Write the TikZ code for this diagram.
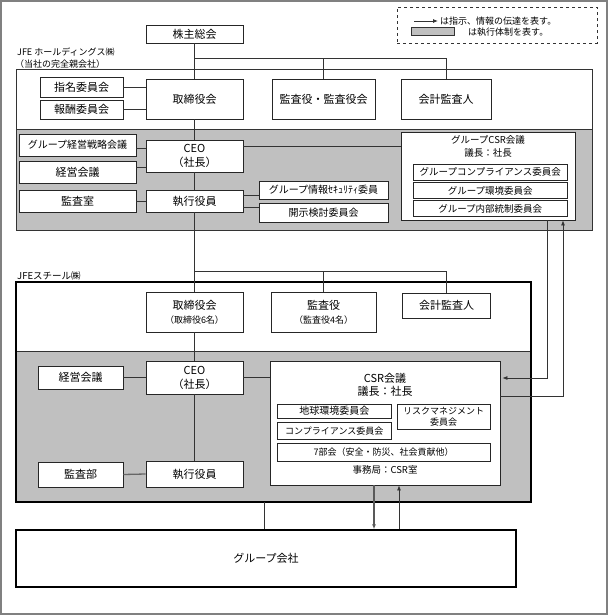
\documentclass[tikz,border=0pt]{standalone}
\usepackage{fontspec}
\setmainfont{Noto Sans CJK JP}
\usetikzlibrary{arrows.meta}
\definecolor{grayfill}{HTML}{C0C0C0}
\definecolor{framegray}{HTML}{808080}
\begin{document}
\begin{tikzpicture}[x=1pt,y=-1pt,
  box/.style={draw=black!85, fill=white, line width=0.8pt, inner sep=0pt, align=center, font=\fontsize{11}{14}\selectfont},
  mbox/.style={box, font=\fontsize{10}{12}\selectfont},
  sbox/.style={box, font=\fontsize{9}{11}\selectfont},
  conn/.style={draw=black!80, line width=0.8pt},
  thickconn/.style={draw=black!60, line width=1.3pt},
  arr/.style={conn, -{Latex[length=5pt,width=4pt]}},
  lbl/.style={inner sep=0pt, anchor=west, font=\fontsize{9}{11}\selectfont},
  ttl/.style={inner sep=0pt, font=\fontsize{9.5}{11}\selectfont},
]
\useasboundingbox (0,0) rectangle (609,616);
\draw[framegray, line width=1.5pt] (1,1) rectangle (607,614);

% legend
\node[draw=black!80, dashed, line width=0.8pt, minimum width=200, minimum height=36, inner sep=0] (legend) at (497,25) {};
\coordinate (la1) at (414,21);
\coordinate (la2) at (438,21);
\draw[arr] (la1) -- (la2);
\node[lbl] (lt1) at (440,21) {は指示、情報の伝達を表す。};
\node[draw=black!80, fill=grayfill, minimum width=43, minimum height=8, inner sep=0] (lgray) at (432.5,31.5) {};
\node[lbl] (lt2) at (468,32) {は執行体制を表す。};

% ---------------- JFE HD ----------------
\node[box] (kabu) at (194.5,34) [minimum width=97, minimum height=18] {株主総会};
\node[lbl] (hdl1) at (17,52) {JFE ホールディングス㈱};
\node[lbl] (hdl2) at (15,64) {（当社の完全親会社）};
\node[draw=black!80, line width=0.8pt, minimum width=576, minimum height=161, inner sep=0] (hd) at (304,149.5) {};
\node[draw=black!80, fill=grayfill, line width=0.8pt, minimum width=576, minimum height=101, inner sep=0] (hdgray) at (304,179.5) {};

\node[box, minimum width=83, minimum height=20] (nom) at (81.5,87) {指名委員会};
\node[box, minimum width=83, minimum height=19] (rem) at (81.5,109.5) {報酬委員会};
\node[box, minimum width=97, minimum height=40] (hdboard) at (194.5,99) {取締役会};
\node[box, minimum width=103, minimum height=40] (hdaud) at (323.5,99) {監査役・監査役会};
\node[box, minimum width=90, minimum height=40] (hdacc) at (446,99) {会計監査人};

\node[mbox, minimum width=117, minimum height=22] (strat) at (77.5,145) {グループ経営戦略会議};
\node[box, minimum width=117, minimum height=22] (hdmgmt) at (77.5,172) {経営会議};
\node[box, minimum width=117, minimum height=22] (hdaudit) at (77.5,201) {監査室};
\node[box, minimum width=97, minimum height=32] (hdceo) at (194.5,156) {CEO\\（社長）};
\node[box, minimum width=97, minimum height=22] (hdexec) at (194.5,201) {執行役員};
\node[mbox, minimum width=129, minimum height=18] (info) at (323.5,190) {グループ情報ｾｷｭﾘﾃｨ委員};
\node[mbox, minimum width=129, minimum height=19] (disc) at (323.5,212.5) {開示検討委員会};

\node[box, minimum width=174, minimum height=88] (hdcsr) at (488,176) {};
\node[ttl] (hdcsrt1) at (488,139.5) {グループCSR会議};
\node[ttl] (hdcsrt2) at (488,152.5) {議長：社長};
\node[sbox, font=\fontsize{9.5}{11}\selectfont, minimum width=153.5, minimum height=16] (gcomp) at (490.25,172) {グループコンプライアンス委員会};
\node[sbox, font=\fontsize{9.5}{11}\selectfont, minimum width=153.5, minimum height=16] (genv) at (490.25,190.5) {グループ環境委員会};
\node[sbox, font=\fontsize{9.5}{11}\selectfont, minimum width=153.5, minimum height=16] (gint) at (490.25,208.5) {グループ内部統制委員会};

% ---------------- JFE Steel ----------------
\node[lbl, font=\fontsize{9.5}{11}\selectfont] (stl) at (17,276) {JFEスチール㈱};
\node[fill=grayfill, draw=black!80, line width=0.8pt, minimum width=515, minimum height=151, inner sep=0] (stgray) at (273.5,426.5) {};
\node[draw=black, line width=1.8pt, minimum width=515, minimum height=220, inner sep=0] (st) at (273.5,392) {};

\node[box, minimum width=97, minimum height=40] (stboard) at (194.5,312) {取締役会\\{\fontsize{9}{11}\selectfont （取締役6名）}};
\node[box, minimum width=105, minimum height=40] (staud) at (323.5,312) {監査役\\{\fontsize{9}{11}\selectfont （監査役4名）}};
\node[box, minimum width=88, minimum height=25] (stacc) at (446.5,305.5) {会計監査人};

\node[box, minimum width=85, minimum height=23] (stmgmt) at (80.5,377.5) {経営会議};
\node[box, minimum width=97, minimum height=33] (stceo) at (194.5,377.5) {CEO\\（社長）};
\node[box, minimum width=85, minimum height=25] (staudit) at (80.5,474.5) {監査部};
\node[box, minimum width=97, minimum height=26] (stexec) at (194.5,474) {執行役員};

\node[box, minimum width=229.5, minimum height=124] (stcsr) at (385.25,423) {};
\node[inner sep=0pt, font=\fontsize{11}{13}\selectfont] (stcsrt1) at (385,378) {CSR会議};
\node[inner sep=0pt, font=\fontsize{11}{13}\selectfont] (stcsrt2) at (385,391.5) {議長：社長};
\node[mbox, minimum width=114.5, minimum height=14] (earth) at (334.25,411) {地球環境委員会};
\node[sbox, minimum width=93, minimum height=25] (risk) at (443.5,416.5) {リスクマネジメント\\委員会};
\node[sbox, minimum width=114.5, minimum height=17] (comp) at (334.25,431) {コンプライアンス委員会};
\node[sbox, minimum width=213, minimum height=18.5] (seven) at (383.5,452.25) {7部会（安全・防災、社会貢献他）};
\node[ttl] (secr) at (385,469.5) {事務局：CSR室};

\node[box, line width=1.4pt, draw=black, minimum width=500, minimum height=57] (grp) at (266,558.5) {グループ会社};

% ---------------- connectors ----------------
\begin{scope}[on background layer/.style={}]
\end{scope}
\coordinate (j1) at (194.5,58);
\coordinate (j2) at (194.5,271);
\coordinate (sb) at (264,502);

\begin{pgfonlayer}{main}
\end{pgfonlayer}

\draw[conn] (kabu.south) -- (hdboard.north);
\draw[conn] (j1) -| (hdaud.north);
\draw[conn] (j1) -| (hdacc.north);
\draw[conn] (nom.east) -- (nom.east -| hdboard.west);
\draw[conn] (rem.east) -- (rem.east -| hdboard.west);
\draw[conn] (hdboard.south) -- (hdceo.north);
\draw[conn] (hdceo.south) -- (hdexec.north);
\draw[conn] ([yshift=-3pt]strat.east) -- ([yshift=-3pt]strat.east -| hdceo.west);
\draw[conn] ([yshift=5pt]hdmgmt.east) -- ([yshift=5pt]hdmgmt.east -| hdceo.west);
\draw[conn] (hdaudit.east) -- (hdexec.west);
\draw[conn] ([yshift=6pt]hdexec.east) -- ([yshift=6pt]hdexec.east -| info.west);
\draw[conn] ([yshift=-6pt]hdexec.east) -- ([yshift=-6pt]hdexec.east -| disc.west);
\draw[conn] ([yshift=10pt]hdceo.east) -- ([yshift=10pt]hdceo.east -| hdcsr.west);
\draw[conn] (hdexec.south) -- (stboard.north);
\draw[conn] (j2) -| (staud.north);
\draw[conn] (j2) -| (stacc.north);
\draw[conn] (stboard.south) -- (stceo.north);
\draw[conn] (stceo.south) -- (stexec.north);
\draw[conn] (stmgmt.east) -- (stceo.west);
\draw[conn] (stceo.east) -- (stceo.east -| stcsr.west);
\draw[thickconn] (staudit.east) -- (stexec.west);
\draw[conn] (sb) -- (sb |- grp.north);
\draw[arr, draw=black!65, line width=1.3pt] ([xshift=-11.25pt]stcsr.south) -- ([xshift=-11.25pt]stcsr.south |- grp.north);
\draw[arr] ([xshift=13.75pt]stcsr.south |- grp.north) -- ([xshift=13.75pt]stcsr.south);
\draw[arr, shorten >=2pt] ([xshift=59pt]hdcsr.south) |- ([yshift=45pt]stcsr.east);
\draw[arr] ([yshift=27pt]stcsr.east) -| ([xshift=75pt]hdcsr.south);
\end{tikzpicture}
\end{document}
